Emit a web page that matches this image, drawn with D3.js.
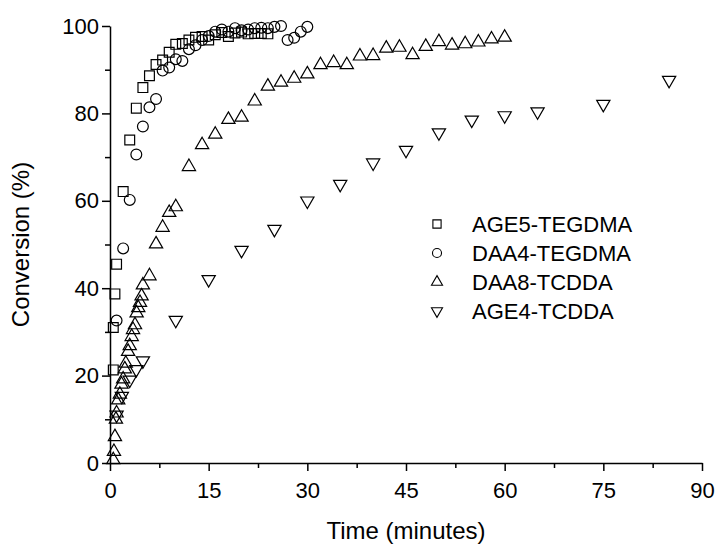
<!DOCTYPE html>
<html>
<head>
<meta charset="utf-8">
<script src="https://cdn.jsdelivr.net/npm/d3@7"></script>
<style>
  html, body { margin: 0; padding: 0; background: #fff; }
  svg { display: block; font-family: "Liberation Sans", Arial, sans-serif; }
</style>
</head>
<body>
<svg id="chart" width="718" height="545"></svg>
<script>
// ---------- data (time in minutes, conversion in %) ----------
const age5Tegdma = [
  [0.5, 21.3], [0.5, 31], [0.75, 38.7], [1, 45.5], [2, 62.1], [3, 73.9], [4, 81.2],
  [5, 85.9], [6, 88.6], [7, 91.2], [8, 92.2], [9, 94.0], [10, 95.8], [11, 96.0],
  [12, 96.8], [13, 97.4], [14, 97.6], [15, 96.8], [16, 98.0], [17, 98.5], [18, 97.6],
  [19, 98.4], [20, 98.6], [21, 98.2], [22, 98.3], [23, 98.3], [24, 98.2]
];
const daa4Tegdma = [
  [1, 32.6], [2, 49.1], [3, 60.2], [4, 70.6], [5, 77.0], [6, 81.4], [7, 83.3],
  [8, 89.8], [9, 90.5], [10, 92.4], [11, 92.0], [12, 94.7], [13, 95.6], [14, 96.8],
  [15, 97.7], [16, 98.7], [17, 99.2], [18, 98.7], [19, 99.5], [20, 99.0], [21, 99.2],
  [22, 99.5], [23, 99.6], [24, 99.5], [25, 99.8], [26, 100], [27, 96.8], [28, 97.3],
  [29, 98.7], [30, 99.8]
];
const daa8Tcdda = [
  [0.5, 0.7], [0.6, 2.6], [0.75, 6], [0.9, 10], [1, 11.4], [1.25, 14.4], [1.5, 15.7],
  [1.75, 18], [2, 19.2], [2.25, 21.5], [2.4, 22.8], [2.75, 25.5], [3, 26.8], [3.3, 28.9],
  [3.5, 30.5], [3.8, 31.6], [4.05, 34.3], [4.3, 35.5], [4.56, 36.7], [4.8, 38.2],
  [5, 40.7], [6, 42.8], [7, 50.1], [8, 53.9], [9, 57.3], [10, 58.6], [12, 67.8],
  [14, 72.8], [16, 75.2], [18, 78.6], [20, 79.1], [22, 82.8], [24, 86.2], [26, 87.1],
  [28, 88.0], [30, 89.0], [32, 91.1], [34, 91.6], [36, 91.1], [38, 93.1], [40, 93.2],
  [42, 94.9], [44, 95.1], [46, 93.4], [48, 95.3], [50, 96.4], [52, 95.6], [54, 95.9],
  [56, 96.3], [58, 97.0], [60, 97.4]
];
const age4Tcdda = [
  [1, 11], [1.8, 15.3], [3, 19.0], [4, 21.4], [5, 23.4], [10, 32.7], [15, 42.0],
  [20, 48.7], [25, 53.5], [30, 60.0], [35, 63.8], [40, 68.7], [45, 71.6], [50, 75.6],
  [55, 78.5], [60, 79.5], [65, 80.4], [75, 82.1], [85, 87.6]
];

const seriesNames = ['AGE5-TEGDMA', 'DAA4-TEGDMA', 'DAA8-TCDDA', 'AGE4-TCDDA'];
const xTicks = [0, 15, 30, 45, 60, 75, 90];
const yTicks = [0, 20, 40, 60, 80, 100];

// ---------- layout ----------
const svg = d3.select('#chart');
const x = d3.scaleLinear().domain([0, 90]).range([110, 702]);
const y = d3.scaleLinear().domain([0, 100]).range([463, 26]);

const series = [
  { name: seriesNames[0], data: age5Tegdma, type: d3.symbolSquare,   size: 96, rot: 0 },
  { name: seriesNames[1], data: daa4Tegdma, type: d3.symbolCircle,   size: 92, rot: 0 },
  { name: seriesNames[2], data: daa8Tcdda,  type: d3.symbolTriangle, size: 76, rot: 0 },
  { name: seriesNames[3], data: age4Tcdda,  type: d3.symbolTriangle, size: 76, rot: 180 }
];

// ---------- axes ----------
function styleAxis(g) {
  g.selectAll('path, line').attr('stroke', '#000').attr('stroke-width', 1.5);
  g.selectAll('text').attr('fill', '#000').style('font-size', '22px');
}

// minor ticks first
svg.append('g')
  .attr('transform', `translate(0,${y(0)})`)
  .call(d3.axisBottom(x).tickValues(d3.range(7.5, 90, 15)).tickSize(5).tickFormat(''))
  .call(styleAxis)
  .select('.domain').remove();
svg.append('g')
  .attr('transform', `translate(${x(0)},0)`)
  .call(d3.axisLeft(y).tickValues(d3.range(10, 100, 20)).tickSize(5).tickFormat(''))
  .call(styleAxis)
  .select('.domain').remove();

svg.append('g')
  .attr('transform', `translate(0,${y(0)})`)
  .call(d3.axisBottom(x).tickValues(xTicks).tickSize(8).tickSizeOuter(0).tickPadding(11))
  .call(styleAxis);
svg.append('g')
  .attr('transform', `translate(${x(0)},0)`)
  .call(d3.axisLeft(y).tickValues(yTicks).tickSize(8).tickSizeOuter(0).tickPadding(3))
  .call(styleAxis);

// axis titles
svg.append('text')
  .attr('x', (x(0) + x(90)) / 2)
  .attr('y', 539)
  .attr('text-anchor', 'middle')
  .style('font-size', '24px')
  .text('Time (minutes)');
svg.append('text')
  .attr('transform', `translate(29,${(y(0) + y(100)) / 2}) rotate(-90)`)
  .attr('text-anchor', 'middle')
  .style('font-size', '24px')
  .text('Conversion (%)');

// ---------- points ----------
series.forEach(s => {
  const sym = d3.symbol().type(s.type).size(s.size);
  svg.append('g')
    .selectAll('path')
    .data(s.data)
    .join('path')
    .attr('d', sym)
    .attr('transform', d => `translate(${x(d[0])},${y(d[1])}) rotate(${s.rot})`)
    .attr('fill', 'none')
    .attr('stroke', '#000')
    .attr('stroke-width', 1.2);
});

// ---------- legend ----------
const legend = svg.append('g').attr('transform', 'translate(437,224)');
const rows = legend.selectAll('g')
  .data(series)
  .join('g')
  .attr('transform', (d, i) => `translate(0,${i * 29})`);
rows.append('path')
  .attr('d', d => d3.symbol().type(d.type).size(d.size * 0.7)())
  .attr('transform', d => `rotate(${d.rot})`)
  .attr('fill', 'none')
  .attr('stroke', '#000')
  .attr('stroke-width', 1.1);
rows.append('text')
  .attr('x', 35)
  .attr('y', 8)
  .style('font-size', '22px')
  .text(d => d.name);
</script>
</body>
</html>
